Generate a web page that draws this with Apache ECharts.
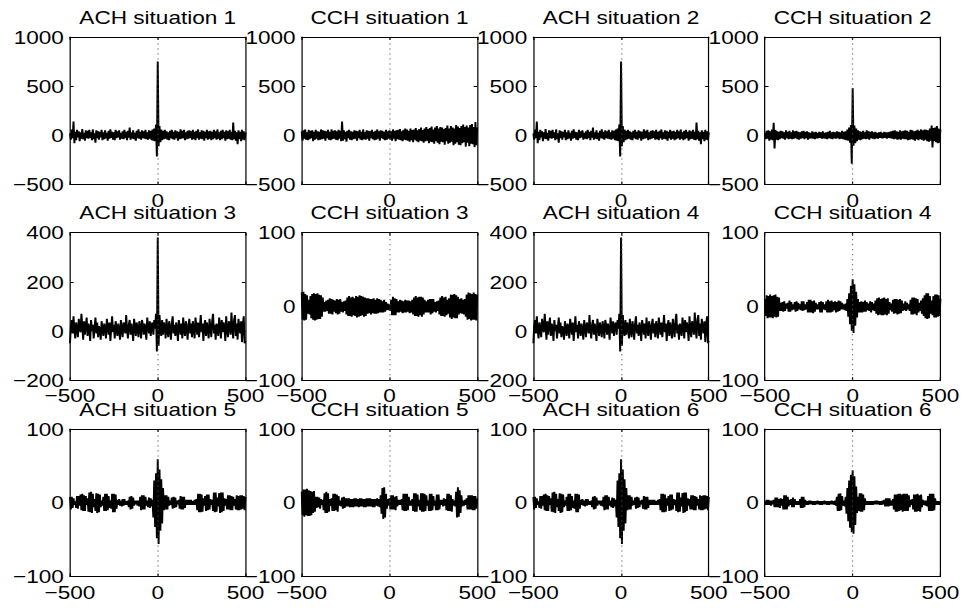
<!DOCTYPE html>
<html>
<head>
<meta charset="utf-8">
<script src="https://cdn.jsdelivr.net/npm/echarts@6/dist/echarts.min.js"></script>
<style>
  html, body { margin: 0; padding: 0; background: #fff; overflow: hidden; }
  /* the figure is laid out at 789 px and widened to the 963 px page */
  #fig { width: 789px; height: 608px; transform: scaleX(1.22053); transform-origin: 0 0; }
</style>
</head>
<body>
<div id="fig"></div>
<script>
// Correlogram bins: lag of the first bin and bin width (ms)
const FIRST_LAG = -500;
const LAG_STEP = 5;

const panelTitles = [
  'ACH situation 1', 'CCH situation 1', 'ACH situation 2', 'CCH situation 2',
  'ACH situation 3', 'CCH situation 3', 'ACH situation 4', 'CCH situation 4',
  'ACH situation 5', 'CCH situation 5', 'ACH situation 6', 'CCH situation 6'
];

// y limits [min, max, tick step]
const yWide = [-500, 1000, 500];
const yMid = [-200, 400, 200];
const yNarrow = [-100, 100, 100];
const xTicks = [-500, 0, 500];

const achSituation1 = [
  20,-45,60,-30,140,-80,35,-50,55,-20,40,-60,30,-35,65,-40,25,-55,50,-30,
  45,-35,55,-25,30,-50,60,-40,20,-75,50,-30,40,-45,35,-20,55,-50,30,-40,
  50,-30,25,-55,45,-35,60,-25,35,-45,30,-50,55,-30,40,-20,50,-45,25,-35,
  40,-40,55,-30,35,-50,45,-25,80,-45,30,-35,50,-40,25,-55,45,-30,60,-35,
  35,-45,50,-30,40,-35,55,-40,30,-45,50,-35,45,-50,60,-55,70,-60,110,-215,
  750,-110,95,-70,60,-50,45,-40,55,-35,40,-45,30,-50,45,-30,55,-40,35,-45,
  50,-30,40,-55,35,-40,60,-35,45,-30,55,-50,30,-40,45,-35,50,-25,40,-45,
  55,-40,35,-50,45,-30,60,-45,30,-35,50,-40,45,-55,35,-30,55,-45,40,-35,
  45,-50,35,-40,55,-30,40,-45,60,-35,30,-50,45,-40,55,-30,35,-55,50,-40,
  40,-35,55,-45,35,-50,130,-40,45,-55,30,-90,50,-40,35,-60,55,-45,40,-50,
  30
];

const cchSituation1 = [
  40,-55,50,-35,60,-45,30,-50,55,-40,45,-30,50,-60,35,-45,55,-35,40,-50,
  35,-45,60,-40,50,-35,45,-55,40,-30,55,-45,35,-50,60,-40,45,-35,50,-45,
  40,-50,55,-35,45,-60,140,-55,50,-40,35,-65,45,-30,55,-45,40,-50,35,-40,
  50,-35,45,-55,40,-30,55,-45,35,-50,60,-40,30,-45,50,-35,45,-55,40,-30,
  55,-40,35,-50,45,-45,60,-35,40,-55,50,-30,45,-40,35,-50,55,-45,40,-35,
  50,-45,40,-55,60,-35,45,-60,50,-40,55,-45,65,-50,40,-60,55,-45,70,-50,
  60,-55,45,-65,70,-50,55,-70,60,-45,75,-60,50,-70,65,-55,80,-60,55,-75,
  70,-60,85,-55,65,-80,75,-65,90,-70,60,-85,80,-60,95,-75,70,-90,85,-65,
  80,-70,65,-95,75,-60,100,-85,70,-75,95,-65,80,-100,70,-85,105,-70,90,-95,
  75,-100,95,-80,110,-70,85,-115,100,-75,80,-110,105,-85,115,-90,85,-120,135,-100,
  80
];

// the autocorrelogram of the reference cell is the same in situations 1 and 2
const achSituation2 = achSituation1;

const cchSituation2 = [
  30,-40,45,-35,50,-55,40,-45,60,-50,127,-133,55,-45,40,-50,35,-40,45,-30,
  40,-35,30,-45,50,-30,35,-40,45,-35,30,-40,50,-35,40,-30,45,-40,35,-45,
  30,-35,40,-30,45,-40,35,-30,40,-45,30,-35,25,-30,40,-35,30,-40,35,-30,
  25,-30,35,-25,30,-35,40,-30,25,-35,30,-40,35,-30,45,-35,30,-40,35,-30,
  30,-35,40,-30,35,-40,30,-35,45,-40,35,-45,40,-50,60,-55,80,-75,105,-290,
  480,-105,100,-80,70,-60,50,-45,40,-50,35,-40,45,-35,30,-40,50,-35,40,-45,
  35,-30,40,-35,30,-40,35,-30,25,-35,30,-25,35,-30,25,-30,35,-25,30,-35,
  30,-25,35,-30,40,-35,45,-40,50,-35,40,-45,35,-40,50,-45,40,-35,45,-40,
  50,-40,45,-50,35,-45,55,-40,50,-45,40,-55,45,-40,55,-50,45,-40,60,-45,
  50,-55,60,-45,55,-60,50,-65,70,-55,100,-123,75,-60,80,-70,95,-80,70,-75,
  60
];

const achSituation3 = [
  -50,20,45,-10,60,5,-30,35,10,-25,50,15,-5,70,20,-35,40,-15,25,55,
  -20,30,10,-40,45,0,25,-30,15,55,-10,35,-25,20,5,-35,40,10,-20,30,
  15,-30,50,20,-15,35,-40,10,60,-5,25,-30,40,15,-20,30,5,-35,45,10,
  -25,35,20,-10,65,5,-30,25,45,-15,30,0,-40,50,20,-20,35,10,-25,40,
  15,-30,45,25,-15,30,5,-35,55,20,-10,40,-20,25,35,-15,45,10,70,-83,
  380,-60,65,10,-20,45,-15,35,20,-30,50,5,-25,40,15,-35,30,60,-10,25,
  -20,35,10,-40,45,20,-15,30,-30,55,5,-20,40,15,-35,25,50,-10,30,-25,
  40,10,-30,55,20,-15,35,-25,15,65,-5,30,-40,20,45,-20,35,5,-30,50,
  15,-25,40,70,-10,25,-35,30,10,-20,55,20,-30,45,-5,35,15,-40,60,5,
  -25,40,20,-15,75,10,-30,45,65,-20,30,-35,50,15,-10,40,-45,25,60,-50,
  -40
];

const cchSituation3 = [
  19,-18,20,-19,17,-18,15,-10,9,-11,14,-16,17,-18,18,-19,17,-18,18,-17,
  16,-17,15,-14,12,-7,6,-7,8,-6,9,-10,11,-10,10,-11,9,-7,8,-9,
  10,-11,9,-10,10,-7,6,-8,7,-6,8,-11,12,-13,14,-13,12,-14,13,-12,
  11,-13,14,-15,13,-14,15,-13,14,-12,13,-14,12,-13,11,-10,11,-9,10,-11,
  10,-9,11,-10,9,-10,11,-9,10,-8,9,-8,7,-8,9,-7,6,-5,4,-5,
  3,-6,9,-12,13,-12,11,-12,10,-8,7,-8,9,-7,8,-9,7,-8,9,-8,
  8,-7,8,-9,7,-8,9,-11,12,-13,14,-13,12,-14,13,-12,13,-14,12,-11,
  9,-8,7,-8,9,-8,10,-11,10,-9,10,-7,6,-8,7,-6,8,-11,12,-13,
  14,-13,12,-14,13,-12,9,-10,11,-15,16,-17,16,-15,17,-16,15,-16,13,-11,
  10,-9,11,-10,9,-11,10,-14,16,-18,19,-17,18,-19,17,-18,19,-18,17,-19,
  16
];

const achSituation4 = achSituation3;

const cchSituation4 = [
  10,-13,15,-16,14,-15,16,-15,14,-16,15,-14,16,-15,13,-14,12,-6,5,-6,
  6,-7,7,-6,4,-3,5,-7,8,-7,6,-5,3,-4,6,-7,7,-6,5,-4,
  3,-5,7,-6,7,-5,3,-4,6,-8,9,-8,9,-8,7,-9,8,-7,5,-4,
  3,-4,6,-8,7,-8,6,-4,3,-5,7,-8,9,-8,7,-8,8,-7,6,-5,
  7,-8,6,-7,8,-6,7,-4,5,-4,3,-5,4,-6,10,-14,18,-24,28,-33,
  37,-36,30,-26,20,-15,10,-8,6,-8,7,-8,6,-7,8,-7,6,-5,4,-6,
  7,-8,6,-5,4,-6,8,-10,11,-12,12,-11,10,-12,11,-12,12,-11,10,-12,
  11,-10,6,-5,4,-7,9,-10,10,-9,10,-11,9,-10,10,-9,8,-6,4,-5,
  7,-6,5,-4,3,-6,9,-11,12,-11,12,-10,11,-12,10,-8,5,-6,8,-10,
  11,-13,15,-16,18,-17,18,-16,14,-10,8,-12,14,-15,16,-15,16,-14,15,-13,
  10
];

const achSituation5 = [
  8,-9,8,-7,6,-3,2,-7,9,-8,9,-4,11,-10,12,-11,10,-11,9,-3,
  6,-12,14,-13,15,-14,12,-6,5,-11,13,-14,12,-13,11,-6,3,-4,8,-11,
  12,-11,12,-10,9,-7,3,-8,12,-13,12,-13,11,-8,4,-3,5,-4,3,-5,
  5,-4,5,-3,2,-3,3,-6,8,-9,9,-8,7,-4,3,-2,3,-4,3,-5,
  8,-10,10,-9,10,-9,8,-4,3,-6,7,-7,6,-5,4,-20,30,-33,40,-48,
  59,-56,45,-38,32,-28,20,-10,10,-9,10,-9,8,-4,3,-3,7,-8,8,-7,
  7,-6,3,-2,4,-8,9,-9,8,-9,8,-7,4,-3,4,-3,4,-3,4,-3,
  2,-3,4,-3,5,-10,12,-13,12,-13,11,-12,6,-4,9,-11,11,-10,11,-9,
  5,-3,4,-11,14,-13,14,-12,7,-5,13,-14,14,-13,14,-11,6,-4,5,-9,
  10,-9,10,-10,9,-10,8,-4,5,-9,10,-10,9,-10,10,-9,10,-8,9,-10,
  8
];

const cchSituation5 = [
  15,-17,18,-19,18,-17,19,-18,17,-18,16,-17,15,-14,16,-12,8,-7,8,-6,
  7,-8,5,-3,4,-10,13,-14,15,-14,13,-12,5,-4,6,-11,12,-11,12,-10,
  11,-12,9,-4,3,-5,7,-8,8,-7,6,-5,6,-5,6,-6,5,-6,5,-6,
  6,-5,6,-5,5,-6,6,-5,6,-5,5,-6,5,-6,6,-5,6,-5,6,-5,
  5,-6,5,-6,5,-4,6,-5,5,-6,10,-15,20,-22,21,-20,12,-8,5,-4,
  6,-9,10,-9,10,-9,8,-10,9,-5,4,-3,4,-3,5,-10,12,-11,12,-11,
  12,-10,8,-4,3,-4,5,-11,13,-12,13,-12,11,-5,4,-10,13,-12,13,-12,
  12,-11,10,-4,3,-11,12,-11,12,-10,9,-4,3,-10,11,-10,11,-9,4,-3,
  4,-5,6,-4,5,-10,12,-11,12,-11,10,-12,5,-4,3,-5,15,-20,21,-19,
  17,-14,10,-5,3,-4,4,-3,6,-9,10,-9,10,-9,10,-10,9,-10,9,-8,
  6
];

const achSituation6 = achSituation5;

const cchSituation6 = [
  2,-3,4,-3,4,-3,3,-4,3,-2,4,-6,7,-6,7,-6,5,-7,6,-4,
  5,-9,10,-9,10,-9,8,-5,4,-3,5,-6,7,-6,5,-3,2,-3,2,-3,
  5,-7,8,-7,8,-6,4,-3,2,-3,3,-2,3,-2,2,-3,2,-3,2,-2,
  3,-2,2,-3,2,-3,2,-2,3,-2,2,-3,2,-3,2,-2,3,-2,2,-3,
  3,-4,8,-11,12,-11,13,-10,9,-4,3,-5,8,-15,20,-25,30,-34,38,-40,
  44,-42,36,-30,22,-14,8,-11,13,-12,13,-12,11,-10,6,-3,2,-3,2,-3,
  2,-3,2,-3,2,-2,3,-2,3,-2,2,-3,2,-3,3,-2,4,-5,6,-5,
  6,-5,6,-4,3,-4,5,-9,11,-12,11,-12,12,-11,12,-10,11,-12,12,-11,
  12,-11,12,-11,10,-6,4,-3,5,-9,11,-12,11,-12,12,-11,10,-12,11,-6,
  4,-3,3,-4,3,-5,9,-11,12,-11,12,-11,12,-10,6,-3,2,-3,2,-3,
  2
];

const panelValues = [
  achSituation1, cchSituation1, achSituation2, cchSituation2,
  achSituation3, cchSituation3, achSituation4, cchSituation4,
  achSituation5, cchSituation5, achSituation6, cchSituation6
];
const panelYLimits = [
  yWide, yWide, yWide, yWide,
  yMid, yNarrow, yMid, yNarrow,
  yNarrow, yNarrow, yNarrow, yNarrow
];

// ---- layout (figure units, before the horizontal widening) ----
const WIDEN = 963 / 789;
const colLeft = [70, 301.7, 533.3, 764.9].map(v => v / WIDEN);
const axW = 175.5 / WIDEN;
const rowTop = [37, 232.7, 429];
const axH = 147.5;
const FONT = '"Liberation Sans", Arial, Helvetica, sans-serif';
const FS = 18.5;

const minusSign = v => String(v).replace('-', '\u2212');

const grid = [], xAxis = [], yAxis = [], series = [], title = [];

panelValues.forEach((values, i) => {
  const row = Math.floor(i / 4), col = i % 4;
  const [yMin, yMax, yStep] = panelYLimits[i];
  const left = colLeft[col], top = rowTop[row];

  grid.push({ left: left, top: top, width: axW, height: axH, containLabel: false });

  title.push({
    text: panelTitles[i],
    left: left + axW / 2,
    top: top - 29.5,
    textAlign: 'center',
    padding: 0,
    textStyle: { fontSize: FS, fontWeight: 'normal', color: '#000', fontFamily: FONT }
  });

  const axisLine = { show: true, onZero: false, lineStyle: { color: '#000', width: 1 } };
  const tick = { show: true, inside: true, length: 3, lineStyle: { color: '#000', width: 1 } };
  const xBase = { type: 'value', gridIndex: i, min: xTicks[0], max: xTicks[2], interval: xTicks[2],
                  axisLine, axisTick: tick, splitLine: { show: false } };
  xAxis.push(Object.assign({}, xBase, {
    position: 'bottom',
    axisLabel: {
      show: true, showMinLabel: true, showMaxLabel: true, margin: 6,
      fontSize: FS, color: '#000', fontFamily: FONT,
      formatter: v => (row === 0 && v !== 0) ? '' : minusSign(v)
    }
  }));
  xAxis.push(Object.assign({}, xBase, { position: 'top', axisLabel: { show: false } }));

  const yBase = { type: 'value', gridIndex: i, min: yMin, max: yMax, interval: yStep,
                  axisLine, axisTick: tick, splitLine: { show: false } };
  yAxis.push(Object.assign({}, yBase, {
    position: 'left',
    axisLabel: {
      show: true, showMinLabel: true, showMaxLabel: true, margin: 5,
      fontSize: FS, color: '#000', fontFamily: FONT, formatter: minusSign
    }
  }));
  yAxis.push(Object.assign({}, yBase, { position: 'right', axisLabel: { show: false } }));

  // dotted zero-lag reference line
  series.push({
    type: 'line', xAxisIndex: 2 * i, yAxisIndex: 2 * i, data: [], z: 1, silent: true,
    markLine: {
      silent: true, symbol: 'none', animation: false, label: { show: false },
      lineStyle: { type: [1, 4], color: '#555', width: 1 },
      data: [{ xAxis: 0 }]
    }
  });

  series.push({
    type: 'line', name: panelTitles[i], xAxisIndex: 2 * i, yAxisIndex: 2 * i, z: 3,
    data: values.map((v, k) => [FIRST_LAG + k * LAG_STEP, v]),
    showSymbol: false, symbol: 'none', silent: true, clip: true,
    lineStyle: { color: '#000', width: 1.6 }
  });
});

const chart = echarts.init(document.getElementById('fig'), null, { renderer: 'svg' });
chart.setOption({
  animation: false,
  backgroundColor: '#fff',
  title, grid, xAxis, yAxis, series
});
</script>
</body>
</html>
